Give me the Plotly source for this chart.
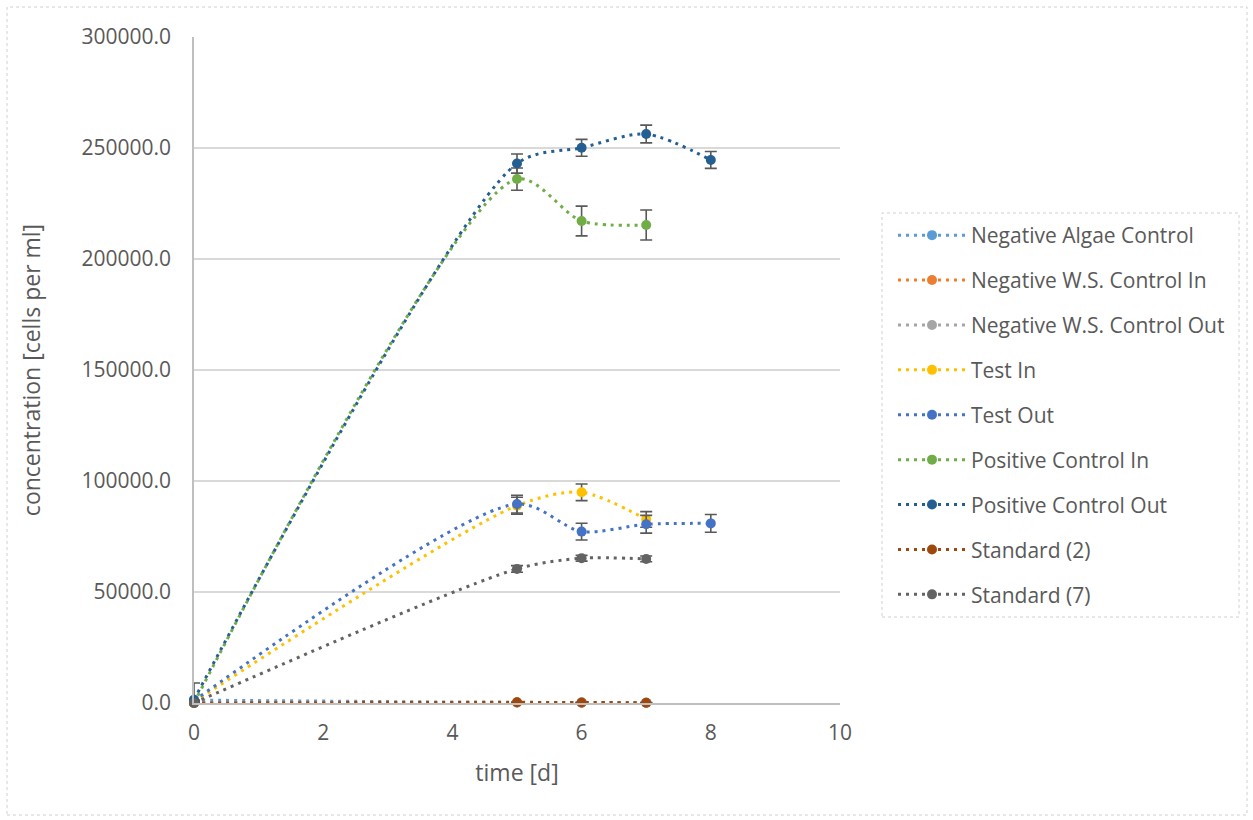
import plotly.graph_objects as go

# Sampling days and measured concentrations (cells per ml)
days_short = [0, 5, 6, 7]
days_long = [0, 5, 6, 7, 8]

neg_algae = [1300, 250, 200, 150]
neg_ws_in = [0, 200, 150, 100]
neg_ws_out = [0, 200, 150, 100]
test_in = [500, 88900, 94900, 82700]
test_out = [1000, 89600, 77200, 80500, 80900]
pos_in = [0, 236000, 217100, 215300]
pos_out = [1500, 243000, 250100, 256300, 244600]
standard_2 = [0, 300, 200, 150]
standard_7 = [0, 60400, 65200, 64900]

# Standard deviations
neg_algae_err = [0, 0, 0, 0]
neg_ws_in_err = [0, 0, 0, 0]
neg_ws_out_err = [0, 0, 0, 0]
test_in_err = [0, 3800, 3750, 3500]
test_out_err = [0, 4000, 3750, 4000, 4000]
pos_in_err = [0, 5000, 6700, 6750]
pos_out_err = [7500, 4300, 3800, 4000, 3800]
standard_2_err = [0, 0, 0, 0]
standard_7_err = [0, 1500, 1300, 1300]

series = [
    ("Negative Algae Control", days_short, neg_algae, neg_algae_err, "#5B9BD5"),
    ("Negative W.S. Control In", days_short, neg_ws_in, neg_ws_in_err, "#ED7D31"),
    ("Negative W.S. Control Out", days_short, neg_ws_out, neg_ws_out_err, "#A5A5A5"),
    ("Test In", days_short, test_in, test_in_err, "#FFC000"),
    ("Test Out", days_long, test_out, test_out_err, "#4472C4"),
    ("Positive Control In", days_short, pos_in, pos_in_err, "#70AD47"),
    ("Positive Control Out", days_long, pos_out, pos_out_err, "#255E91"),
    ("Standard (2)", days_short, standard_2, standard_2_err, "#9E480E"),
    ("Standard (7)", days_short, standard_7, standard_7_err, "#636363"),
]

y_ticks = [0, 50000, 100000, 150000, 200000, 250000, 300000]
x_ticks = [0, 2, 4, 6, 8, 10]

FONT = "Open Sans"
TEXT = "#595959"

fig = go.Figure()
for name, xs, ys, errs, color in series:
    fig.add_trace(go.Scatter(
        x=xs, y=ys, name=name, legendgroup=name,
        mode="lines+markers",
        line=dict(color=color, width=3, dash="3px,5px", shape="spline", smoothing=0.8),
        marker=dict(color=color, size=10),
        error_y=dict(type="data", array=errs, visible=True,
                     color="#595959", thickness=1.6, width=6),
        cliponaxis=False,
    ))

L, R = 194, 840
T, B = 37, 703
W, H = 1253, 820
pw, ph = R - L, B - T

def px_x(p):
    return (p - L) / pw

def px_y(p):
    return (B - p) / ph

fig.update_layout(
    width=W, height=H,
    margin=dict(l=L, r=W - R, t=T, b=H - B, pad=0),
    paper_bgcolor="white", plot_bgcolor="white",
    font=dict(family=FONT, size=21, color=TEXT),
    xaxis=dict(
        range=[0, 10], tickvals=x_ticks, ticktext=[str(v) for v in x_ticks],
        tickfont=dict(size=21),
        showgrid=False, zeroline=False,
        showline=True, linecolor="#BFBFBF", linewidth=1.5,
        ticks="", ticklabelstandoff=10,
        title=dict(text="time [d]", font=dict(size=23, color=TEXT), standoff=20),
    ),
    yaxis=dict(
        range=[0, 300000], tickvals=y_ticks,
        ticktext=[f"{v:.1f}" for v in y_ticks],
        tickfont=dict(size=21),
        showgrid=True, gridcolor="#D9D9D9", gridwidth=1.5,
        zeroline=False,
        showline=True, linecolor="#BFBFBF", linewidth=1.5,
        ticks="", ticklabelstandoff=17,
        title=dict(text="concentration [cells per ml]", font=dict(size=23, color=TEXT), standoff=34),
    ),
    legend=dict(
        x=px_x(893), y=px_y(215), xanchor="left", yanchor="top",
        bgcolor="rgba(0,0,0,0)", borderwidth=0,
        font=dict(family=FONT, size=21, color=TEXT),
        tracegroupgap=14.6, itemwidth=68,
    ),
    showlegend=True,
)

# Dotted frames around the legend and the whole chart
fig.add_shape(type="rect", xref="paper", yref="paper",
              x0=px_x(882), x1=px_x(1239), y0=px_y(617), y1=px_y(213),
              line=dict(color="#D0D0D0", width=1, dash="dot"))
fig.add_shape(type="rect", xref="paper", yref="paper",
              x0=px_x(7), x1=px_x(1247), y0=px_y(815), y1=px_y(7),
              line=dict(color="#D0D0D0", width=1, dash="dot"))

fig.write_html("out.html")
